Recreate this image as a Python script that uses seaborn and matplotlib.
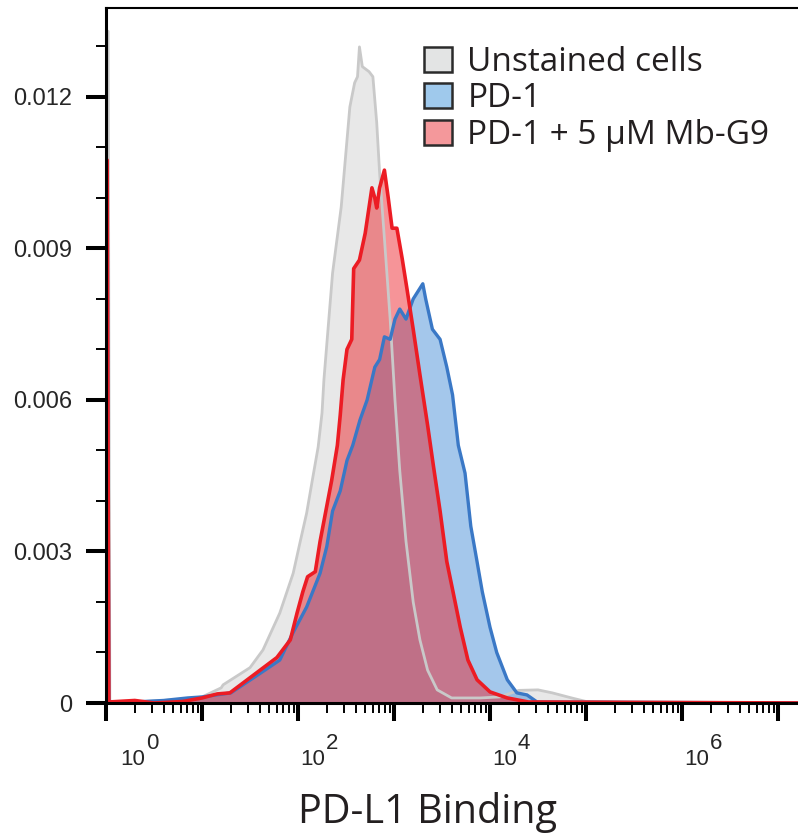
import numpy as np
import pandas as pd
import matplotlib
matplotlib.use("Agg")
import matplotlib.pyplot as plt
from matplotlib.patches import Patch
from matplotlib.ticker import FixedLocator, LogLocator, NullFormatter
import seaborn as sns

# histogram traces: x as log10(intensity), y as density
unstained_exp = [0.022, 0.04, 0.3, 0.6, 0.875, 1.0, 1.2, 1.22, 1.5, 1.635, 1.81, 1.95,
                 2.02, 2.09, 2.15, 2.21, 2.25, 2.27, 2.36, 2.45, 2.54, 2.59, 2.62,
                 2.64, 2.67, 2.74, 2.78, 2.82, 2.85, 2.90, 2.96, 3.01, 3.06, 3.125,
                 3.20, 3.27, 3.35, 3.45, 3.6, 3.9, 4.1, 4.3, 4.5, 4.65, 4.85, 5.0,
                 5.5, 7.3]
unstained_val = [0.0133, 0.00002, 0.00002, 0.00005, 0.00008, 0.00012, 0.0003, 0.00036,
                 0.0007, 0.00105, 0.00178, 0.00257, 0.00317, 0.00376, 0.00442, 0.00507,
                 0.00574, 0.0064, 0.00851, 0.00982, 0.0118, 0.01228, 0.0124, 0.01299,
                 0.0126, 0.0125, 0.0124, 0.01149, 0.0105, 0.0092, 0.0076, 0.006,
                 0.0046, 0.0032, 0.002, 0.00125, 0.00065, 0.00026, 0.0001, 0.0001,
                 0.00012, 0.00025, 0.00026, 0.0002, 0.0001, 0.00003, 0.00001, 0.0]

pd1_exp = [0.012, 0.03, 0.3, 0.6, 0.85, 1.0, 1.3, 1.6, 1.81, 1.95, 2.09, 2.23,
           2.30, 2.36, 2.44, 2.51, 2.57, 2.645, 2.72, 2.80, 2.85, 2.90, 2.96, 3.01,
           3.06, 3.125, 3.20, 3.30, 3.33, 3.40, 3.48, 3.55, 3.61, 3.67, 3.74, 3.80,
           3.865, 3.92, 4.0, 4.07, 4.18, 4.28, 4.385, 4.49, 7.3]
pd1_val = [0.0105, 0.00002, 0.00002, 0.00005, 0.0001, 0.00012, 0.0002,
           0.00058, 0.00085, 0.0014, 0.0019, 0.00257, 0.0031, 0.0038, 0.0042, 0.0048,
           0.0051, 0.0056, 0.006, 0.00665, 0.0068, 0.00725, 0.0072, 0.0076, 0.0078,
           0.0076, 0.008, 0.0083, 0.008, 0.0074, 0.0072, 0.00665, 0.0061, 0.0051,
           0.00455, 0.0035, 0.0028, 0.0022, 0.0015, 0.001, 0.00046, 0.0002, 0.00016,
           0.00002, 0.0]

mbg9_exp = [0.012, 0.03, 0.3, 0.5, 0.8, 1.0, 1.16, 1.29, 1.57, 1.78, 1.92, 1.99, 2.05,
            2.10, 2.18, 2.23, 2.30, 2.35, 2.41, 2.44, 2.47, 2.51, 2.56, 2.58, 2.64,
            2.70, 2.77, 2.80, 2.82, 2.85, 2.90, 2.94, 2.98, 3.03, 3.085, 3.135, 3.20,
            3.27, 3.35, 3.41, 3.48, 3.55, 3.615, 3.69, 3.77, 3.865, 4.0, 4.18, 4.4, 7.3]
mbg9_val = [0.01075, 0.00002, 0.00005, 0.0, 0.00003, 0.0001, 0.00018, 0.0002, 0.0006,
            0.0009, 0.00125, 0.00178, 0.0022, 0.0025, 0.0026, 0.0032, 0.0039, 0.0044,
            0.0051, 0.0057, 0.0064, 0.007, 0.0072, 0.0086, 0.00877, 0.0093, 0.0102,
            0.01, 0.0098, 0.0102, 0.01055, 0.01, 0.0094, 0.0094, 0.0088, 0.0082,
            0.0074, 0.0065, 0.0055, 0.0047, 0.0038, 0.0028, 0.0022, 0.0015, 0.00085,
            0.00046, 0.00022, 0.0001, 0.00002, 0.0]

labels = ["Unstained cells", "PD-1", "PD-1 + 5 \u03bcM Mb-G9"]
line_colors = ["#c9c9c9", "#3a78c6", "#ec1c24"]
line_widths = [2.0, 2.4, 2.6]
fill_colors = ["#e8e8e8", "#4a90d9", "#ec1c24"]
fill_alpha = [1.0, 0.5, 0.47]
legend_colors = ["#e3e4e4", "#9fc9ec", "#f4989b"]

y_major = [0, 0.003, 0.006, 0.009, 0.012]
y_major_labels = ["0", "0.003", "0.006", "0.009", "0.012"]
x_labelled = [0, 2, 4, 6]

series = [(unstained_exp, unstained_val), (pd1_exp, pd1_val), (mbg9_exp, mbg9_val)]

sns.set_style("ticks")
plt.rcParams["font.family"] = ["Open Sans", "DejaVu Sans"]
tick_font = ["Liberation Sans", "DejaVu Sans"]

fig = plt.figure(figsize=(7.98, 8.34), dpi=100)
ax = fig.add_axes([106 / 798, 131 / 834, 700 / 798, 695 / 834])

for (ex, val), lab, lc, lw, fc, fa in zip(series, labels, line_colors, line_widths,
                                          fill_colors, fill_alpha):
    df = pd.DataFrame({"x": 10 ** np.array(ex), "y": val})
    ax.fill_between(df["x"], 0, df["y"], color=fc, alpha=fa, lw=0)
    sns.lineplot(data=df, x="x", y="y", color=lc, lw=lw, sort=False,
                 estimator=None, ax=ax)

ax.set_xscale("log")
ax.set_xlim(1, 10 ** (700 / 96))
ax.set_ylim(0, 0.01376)

# y axis
ax.yaxis.set_major_locator(FixedLocator(y_major))
ax.set_yticklabels(y_major_labels, family=tick_font, fontsize=17)
ax.yaxis.set_minor_locator(FixedLocator(np.arange(0.001, 0.0135, 0.001)))
ax.tick_params(axis="y", which="major", length=14.4, width=2.9, pad=10, color="black")
ax.tick_params(axis="y", which="minor", length=7.2, width=1.4, color="black")

# x axis: decades with log minor ticks, labels drawn as "10" + raised exponent
ax.xaxis.set_major_locator(LogLocator(base=10, numticks=20))
ax.xaxis.set_minor_locator(LogLocator(base=10, subs=np.arange(2, 10), numticks=100))
ax.xaxis.set_major_formatter(NullFormatter())
ax.xaxis.set_minor_formatter(NullFormatter())
ax.tick_params(axis="x", which="major", length=13, width=2.9, color="black")
ax.tick_params(axis="x", which="minor", length=7.2, width=1.4, color="black")

for e in x_labelled:
    dx = 14 if e == 0 else 2
    ax.annotate("10", xy=(10.0 ** e, 0), xycoords=("data", "axes fraction"),
                xytext=(dx, -62), textcoords="offset pixels", ha="left",
                va="baseline", fontsize=16, family=tick_font)
    ax.annotate(str(e), xy=(10.0 ** e, 0), xycoords=("data", "axes fraction"),
                xytext=(dx + 26, -46), textcoords="offset pixels", ha="left",
                va="baseline", fontsize=16, family=tick_font)

ax.set_xlabel("PD-L1 Binding", fontsize=28.5, va="baseline", color="#231f20")
ax.xaxis.set_label_coords((428 - 106) / 700, -(823 - 703) / 695)
ax.set_ylabel("")

for side, lw in [("left", 2.2), ("bottom", 2.2), ("top", 1.5), ("right", 1.5)]:
    ax.spines[side].set_linewidth(lw)
    ax.spines[side].set_color("black")

handles = [Patch(facecolor=c, edgecolor="#2b2b2b", lw=1.8, label=l)
           for c, l in zip(legend_colors, labels)]
ax.legend(handles=handles, loc="upper left", bbox_to_anchor=(424 / 798, 1 - 46 / 834),
          bbox_transform=fig.transFigure, frameon=False, fontsize=24,
          handlelength=0.85, handleheight=0.78, handletextpad=0.45,
          labelspacing=0.1, borderpad=0, borderaxespad=0, labelcolor="#231f20")

fig.savefig("out.png", dpi=100)
